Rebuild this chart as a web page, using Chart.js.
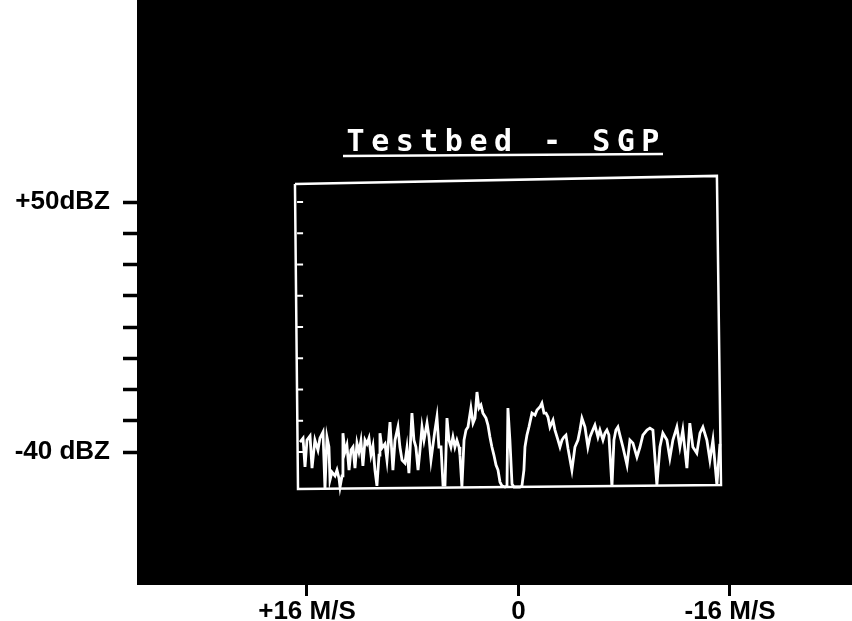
<!DOCTYPE html>
<html>
<head>
<meta charset="utf-8">
<title>Testbed - SGP</title>
<script src="https://cdn.jsdelivr.net/npm/chart.js@4.4.1/dist/chart.umd.min.js"></script>
<style>
  html, body { margin: 0; padding: 0; background: #fff; }
  canvas { display: block; }
</style>
</head>
<body>
<canvas id="chart" width="852" height="621"></canvas>
<script>
// Doppler spectrum (velocity in M/S, reflectivity in dBZ)
const velocity = [
  16.53, 16.30, 16.15, 16.00, 15.77, 15.62, 15.40, 15.17, 15.02, 14.79,
  14.64, 14.49, 14.34, 14.26, 14.11, 13.88, 13.73, 13.58, 13.50, 13.35,
  13.28, 13.13, 12.98, 12.82, 12.67, 12.52, 12.37, 12.22, 12.07, 11.92,
  11.77, 11.61, 11.46, 11.31, 11.16, 11.01, 10.86, 10.71, 10.55, 10.48,
  10.33, 10.10, 9.95, 9.72, 9.57, 9.50, 9.34, 9.12, 8.97, 8.81,
  8.59, 8.44, 8.29, 8.06, 7.91, 7.76, 7.60, 7.45, 7.30, 7.15,
  6.92, 6.77, 6.62, 6.47, 6.32, 6.17, 6.02, 5.86, 5.71, 5.56,
  5.41, 5.26, 5.11, 4.96, 4.81, 4.66, 4.50, 4.43, 4.28, 4.12,
  3.97, 3.82, 3.60, 3.44, 3.29, 3.14, 2.99, 2.84, 2.69, 2.46,
  2.31, 2.16, 2.01, 1.86, 1.70, 1.55, 1.40, 1.25, 1.02, 0.87,
  0.80, 0.65, 0.49, 0.34, 0.12, -0.11, -0.26, -0.41, -0.49, -0.64,
  -0.79, -1.02, -1.25, -1.40, -1.62, -1.77, -1.93, -2.08, -2.23, -2.38,
  -2.61, -2.76, -2.99, -3.14, -3.29, -3.44, -3.59, -3.74, -4.04, -4.27,
  -4.50, -4.65, -4.80, -5.03, -5.25, -5.41, -5.56, -5.78, -6.01, -6.16,
  -6.39, -6.54, -6.69, -6.84, -7.07, -7.22, -7.37, -7.52, -7.67, -7.90,
  -8.21, -8.43, -8.66, -8.96, -9.19, -9.41, -9.72, -9.94, -10.17, -10.47,
  -10.70, -10.92, -11.23, -11.45, -11.68, -11.98, -12.21, -12.43, -12.74, -12.96,
  -13.19, -13.49, -13.73, -13.95, -14.25, -14.48, -14.71, -15.01, -15.24
]
const reflectivity = [
  -36.4, -35.0, -45.4, -35.7, -34.2, -45.8, -35.7, -39.3, -35.0, -32.8,
  -53.3, -34.6, -38.2, -50.1, -47.2, -48.6, -46.5, -49.4, -52.6, -48.6,
  -33.2, -40.0, -37.5, -46.5, -39.3, -38.2, -45.8, -36.8, -40.0, -36.0,
  -45.0, -35.7, -37.1, -35.0, -41.1, -37.8, -46.5, -52.2, -41.1, -33.2,
  -38.6, -37.1, -42.9, -29.2, -41.1, -46.5, -35.7, -31.0, -38.2, -42.9,
  -44.0, -38.6, -47.6, -26.0, -35.7, -38.2, -46.5, -39.3, -31.0, -35.7,
  -29.6, -34.6, -42.9, -37.5, -32.1, -27.4, -38.2, -38.2, -51.9, -51.9,
  -27.8, -35.7, -38.2, -34.6, -38.2, -35.7, -38.2, -41.1, -52.6, -35.7,
  -32.1, -31.0, -24.2, -29.6, -27.8, -18.4, -24.2, -23.1, -26.0, -27.8,
  -30.3, -34.6, -38.2, -41.1, -44.7, -46.5, -50.8, -52.2, -52.6, -52.2,
  -24.2, -35.7, -51.5, -52.6, -52.6, -52.6, -52.2, -46.5, -38.2, -33.9,
  -31.0, -26.0, -26.7, -24.9, -23.8, -22.4, -26.0, -26.0, -27.4, -31.0,
  -28.5, -32.1, -35.7, -38.2, -35.7, -34.6, -33.9, -38.6, -46.5, -38.2,
  -35.7, -32.1, -27.8, -31.0, -38.2, -34.6, -32.8, -30.3, -34.6, -32.1,
  -35.7, -33.2, -32.1, -33.9, -52.6, -35.7, -32.1, -31.0, -33.9, -38.2,
  -44.7, -35.7, -36.8, -41.8, -38.2, -33.9, -32.1, -31.4, -32.1, -51.9,
  -38.2, -33.2, -35.7, -42.2, -35.7, -31.0, -38.2, -32.1, -45.8, -29.6,
  -38.2, -40.4, -33.2, -31.0, -35.7, -42.9, -35.7, -51.9, -37.1
]

// plot frame corners (slightly skewed, like the scan)
const frameX = [16.91, -15.01, -15.32, 16.68, 16.91]
const frameY = [56.5, 59.4, -51.9, -53.3, 56.5]

// axis ticks
const yTickValues = [50, 38.75, 27.5, 16.25, 5, -6.25, -17.5, -28.75, -40]
const yTickLabels = { 50: '+50dBZ', '-40': '-40 dBZ' }
const xTickValues = [16, 0, -16]
const xTickLabels = { 16: '+16 M/S', 0: '0', '-16': '-16 M/S' }

const titleText = 'Testbed - SGP'

const blackArea = {
  id: 'blackArea',
  beforeDraw (chart) {
    const { ctx, chartArea: a } = chart
    ctx.save()
    ctx.fillStyle = '#000'
    ctx.fillRect(a.left, a.top, a.right - a.left, a.bottom - a.top)
    ctx.restore()
  }
}

// small inner ticks on the left side of the frame + the underlined title
const decorations = {
  id: 'decorations',
  afterDatasetsDraw (chart) {
    const { ctx } = chart
    const xs = chart.scales.x
    const ys = chart.scales.y
    ctx.save()
    ctx.strokeStyle = '#fff'
    ctx.lineWidth = 2
    const left = xs.getPixelForValue(16.75)
    yTickValues.forEach(v => {
      const py = ys.getPixelForValue(v)
      ctx.beginPath()
      ctx.moveTo(left, py)
      ctx.lineTo(left + 6, py)
      ctx.stroke()
    })

    ctx.fillStyle = '#fff'
    ctx.font = 'bold 30px "DejaVu Sans Mono"'
    ctx.letterSpacing = '6.5px'
    ctx.textAlign = 'left'
    ctx.textBaseline = 'alphabetic'
    const w = ctx.measureText(titleText).width - 6.5
    const cx = 503
    ctx.fillText(titleText, cx - w / 2, 151)
    ctx.lineWidth = 2.5
    ctx.beginPath()
    ctx.moveTo(343, 156)
    ctx.lineTo(663, 154)
    ctx.stroke()
    ctx.restore()
  }
}

const config = {
  type: 'line',
  data: {
    datasets: [
      {
        label: 'spectrum',
        data: velocity.map((v, i) => ({ x: v, y: reflectivity[i] })),
        borderColor: '#fff',
        borderWidth: 2.8,
        pointRadius: 0,
        tension: 0,
        fill: false
      },
      {
        label: 'frame',
        data: frameX.map((v, i) => ({ x: v, y: frameY[i] })),
        borderColor: '#fff',
        borderWidth: 2.5,
        pointRadius: 0,
        tension: 0,
        fill: false
      }
    ]
  },
  options: {
    responsive: false,
    animation: false,
    devicePixelRatio: 1,
    layout: { padding: 0 },
    plugins: {
      legend: { display: false },
      title: { display: false },
      tooltip: { enabled: false }
    },
    scales: {
      x: {
        type: 'linear',
        reverse: true,
        min: -25.23,
        max: 28.86,
        border: { display: false },
        grid: { drawOnChartArea: false, drawTicks: true, tickLength: 11, tickWidth: 3, tickColor: '#000' },
        ticks: {
          color: '#000',
          padding: 0,
          maxRotation: 0,
          font: { family: '"Liberation Sans", Arial, sans-serif', size: 26, weight: 'bold' },
          callback: v => xTickLabels[v] ?? ''
        },
        afterBuildTicks: scale => { scale.ticks = xTickValues.map(v => ({ value: v })) },
        afterFit: scale => { scale.height = 36; scale.paddingLeft = 0; scale.paddingRight = 0 }
      },
      y: {
        type: 'linear',
        min: -87.87,
        max: 122.72,
        border: { display: false },
        grid: { drawOnChartArea: false, drawTicks: true, tickLength: 14, tickWidth: 3.5, tickColor: '#000' },
        ticks: {
          color: '#000',
          padding: 13,
          font: { family: '"Liberation Sans", Arial, sans-serif', size: 26, weight: 'bold' },
          callback: v => yTickLabels[v] ?? ''
        },
        afterBuildTicks: scale => { scale.ticks = yTickValues.map(v => ({ value: v })) },
        afterFit: scale => { scale.width = 137; scale.paddingTop = 0; scale.paddingBottom = 0 }
      }
    }
  },
  plugins: [blackArea, decorations]
}

new Chart(document.getElementById('chart'), config)
</script>
</body>
</html>
